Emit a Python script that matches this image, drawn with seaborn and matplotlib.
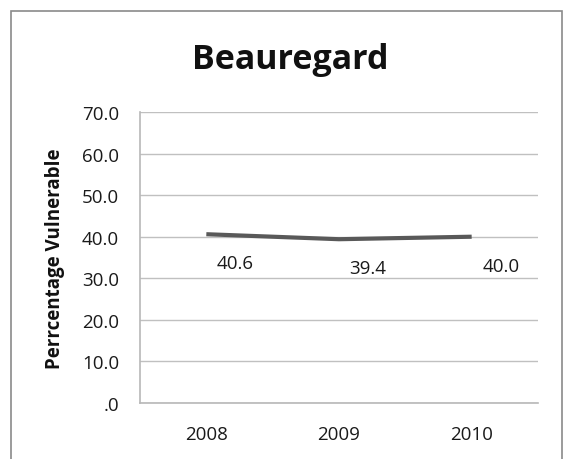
import numpy as np
import pandas as pd
import seaborn as sns
import matplotlib.pyplot as plt
from matplotlib.patches import Rectangle

# chart values
years = ['2008', '2009', '2010']
vulnerable = [40.6, 39.4, 40.0]
y_ticks = [0, 10, 20, 30, 40, 50, 60, 70]
y_tick_labels = ['.0', '10.0', '20.0', '30.0', '40.0', '50.0', '60.0', '70.0']

sns.set_style('white')
plt.rcParams['font.family'] = ['Open Sans', 'DejaVu Sans']

df = pd.DataFrame({'pos': np.arange(len(years)) + 0.5, 'value': vulnerable})

W, H = 570, 460
fig = plt.figure(figsize=(W / 100, H / 100), dpi=100)
ax = fig.add_axes([140 / W, 1 - 404 / H, 398 / W, 291 / H])

sns.lineplot(data=df, x='pos', y='value', ax=ax, color='#595959', linewidth=3,
             solid_capstyle='butt')

for x, v in zip(df['pos'], df['value']):
    ax.annotate(f'{v:.1f}', (x, v), xytext=(21, -21), textcoords='offset points',
                ha='center', va='center', fontsize=13.5, color='#1a1a1a')

ax.set_xlim(0, 3)
ax.set_ylim(0, 70)
ax.set_yticks(y_ticks)
ax.set_yticklabels(y_tick_labels)
ax.set_xticks(df['pos'])
ax.set_xticklabels(years)
ax.tick_params(axis='both', length=0, labelsize=13.5, colors='#1a1a1a')
ax.tick_params(axis='y', pad=15)
ax.tick_params(axis='x', pad=16)
ax.grid(axis='y', color='#c0c0c0', linewidth=1)
ax.set_axisbelow(True)
for s in ['top', 'right']:
    ax.spines[s].set_visible(False)
for s in ['left', 'bottom']:
    ax.spines[s].set_color('#b8b8b8')
    ax.spines[s].set_linewidth(1.2)

ax.set_xlabel('')
ax.set_ylabel('Perrcentage Vulnerable', fontsize=13.5, fontweight='bold', color='#111111')
ax.yaxis.set_label_coords(-75 / 398, 0.5)

fig.text(290 / W, 1 - 60 / H, 'Beauregard', ha='center', va='center',
         fontsize=24.5, fontweight='bold', color='#111111')

# outer chart border
fig.patches.append(Rectangle((11 / W, -0.05), 551 / W, 1 - 12 / H + 0.05,
                             transform=fig.transFigure, fill=False,
                             edgecolor='#8a8a8a', linewidth=1.2, clip_on=False))

fig.savefig('out.png', dpi=100)
